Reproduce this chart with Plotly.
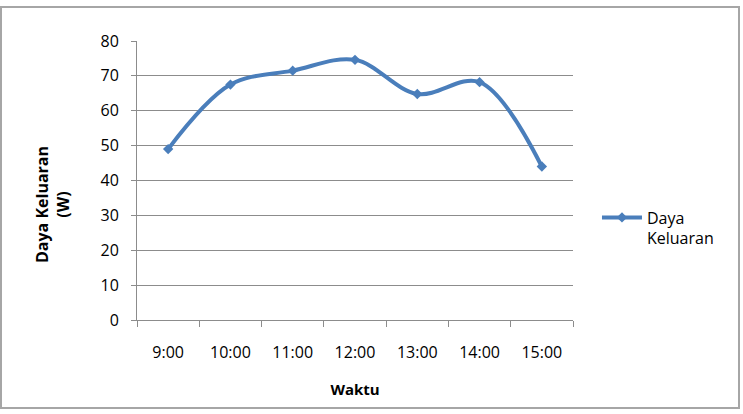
import plotly.graph_objects as go

waktu = ["9:00", "10:00", "11:00", "12:00", "13:00", "14:00", "15:00"]
daya = [49.0, 67.5, 71.5, 74.6, 64.8, 68.2, 44.0]
y_ticks = [0, 10, 20, 30, 40, 50, 60, 70, 80]

W, H = 743, 414
L, R, T, B = 137, 170, 41, 94
pw, ph = W - L - R, H - T - B

blue = "#4A7EBB"
grid = "#8C8C8C"
font = "Open Sans"

fig = go.Figure()
fig.add_trace(go.Scatter(
    x=waktu, y=daya, mode="lines+markers", name="Daya<br>Keluaran",
    line=dict(color=blue, width=4, shape="spline", smoothing=1.0),
    marker=dict(symbol="diamond", size=8, color=blue),
))

# outer chart border
fig.add_shape(type="rect", xref="paper", yref="paper",
              x0=-(L - 1) / pw, x1=(W - 4 - L) / pw,
              y0=-(B - 6) / ph, y1=1 + (T - 7) / ph,
              line=dict(color="#A6A6A6", width=2), layer="below")

# y axis title placed like the original (slightly below centre)
fig.add_annotation(text="<b>Daya Keluaran<br>(W)</b>", textangle=-90,
                   xref="paper", yref="paper",
                   x=-(L - 52) / pw, y=1 - (205 - T) / ph,
                   xanchor="center", yanchor="middle", showarrow=False,
                   font=dict(family=font, size=16, color="#000000"))

fig.update_layout(
    width=W, height=H,
    margin=dict(l=L, r=R, t=T, b=B),
    paper_bgcolor="white", plot_bgcolor="white",
    font=dict(family=font, size=16, color="#000000"),
    showlegend=True,
    legend=dict(x=1.055, y=1 - (228 - T) / ph, xanchor="left", yanchor="middle",
                valign="top", itemwidth=40,
                font=dict(family=font, size=16), bgcolor="rgba(0,0,0,0)"),
    xaxis=dict(
        type="category", tickson="boundaries", ticks="outside", ticklen=6,
        tickcolor=grid, showline=True, linecolor=grid, linewidth=1,
        showgrid=False, ticklabelstandoff=18,
        tickfont=dict(family=font, size=16),
        title=dict(text="<b>Waktu</b>", font=dict(family=font, size=15), standoff=22),
        range=[-0.5, 6.5],
    ),
    yaxis=dict(
        range=[0, 80], tickvals=y_ticks, ticks="outside", ticklen=5,
        tickcolor=grid, showline=True, linecolor=grid, linewidth=1,
        showgrid=True, gridcolor=grid, gridwidth=1.3, zeroline=False,
        ticklabelstandoff=9,
        tickfont=dict(family=font, size=16),
    ),
)

fig.write_html("out.html")
